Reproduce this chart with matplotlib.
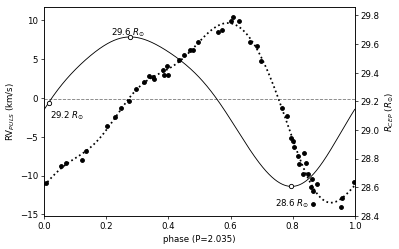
import numpy as np
import matplotlib.pyplot as plt

# ---------------- data ----------------
phase = [0.005, 0.053, 0.071, 0.123, 0.133, 0.202, 0.227, 0.248, 0.274, 0.297,
         0.320, 0.338, 0.349, 0.354, 0.382, 0.386, 0.397, 0.394, 0.435, 0.449,
         0.468, 0.478, 0.494, 0.559, 0.573, 0.601, 0.607, 0.627, 0.662, 0.685,
         0.697, 0.766, 0.782, 0.794, 0.800, 0.803, 0.818, 0.822, 0.836, 0.843,
         0.834, 0.849, 0.861, 0.860, 0.866, 0.878, 0.864, 0.955, 0.960, 0.998]
rv = [-11.0, -8.75, -8.4, -8.0, -6.8, -3.6, -2.5, -1.3, -0.4, 1.15,
      2.05, 2.8, 2.65, 2.45, 3.65, 2.9, 2.9, 4.15, 4.9, 5.55,
      6.2, 6.2, 7.25, 8.5, 8.7, 9.9, 10.4, 9.9, 7.15, 6.65,
      4.8, -1.3, -2.35, -5.2, -5.55, -6.3, -7.45, -8.45, -7.15, -8.4,
      -9.75, -9.8, -10.5, -11.5, -12.0, -11.1, -13.7, -14.0, -12.9, -10.8]

gamma_rv = -0.12               # dashed systemic velocity line
r_max, r_min = 29.65, 28.605   # radius extremes (R_sun)
r_ref_phase = 0.014            # phase of the 29.2 R_sun marker
r_shift = 0.03                 # phase lag of the radius curve
n_harm = 4

phase = np.array(phase)
rv = np.array(rv)

############ Fourier fit of the RV curve ##################
def design(x, n):
    cols = [np.ones_like(x)]
    for k in range(1, n + 1):
        cols.append(np.cos(2 * np.pi * k * x))
        cols.append(np.sin(2 * np.pi * k * x))
    return np.vstack(cols).T

coef, *_ = np.linalg.lstsq(design(phase, n_harm), rv, rcond=None)
ph = np.linspace(0, 1, 1001)
rv_fit = design(ph, n_harm) @ coef

############ radius curve from integrated velocity ##############
dv = rv_fit - coef[0]
integ = np.concatenate([[0], np.cumsum(0.5 * (dv[1:] + dv[:-1]) * np.diff(ph))])
scale = (r_max - r_min) / (integ.max() - integ.min())
rad0 = r_max - scale * (integ - integ.min())
radius = np.interp((ph - r_shift) % 1.0, ph, rad0)

imax = np.argmax(radius)
imin = np.argmin(radius)
r_ref = np.interp(r_ref_phase, ph, radius)

############ plot ###################
fig = plt.figure(figsize=(6.4, 4.0), dpi=62.35)
ax = fig.add_axes([0.111, 0.1333, 0.778, 0.8374])
ax2 = ax.twinx()

ax.axhline(gamma_rv, color='grey', ls='--', lw=1)
ax.plot(ph, rv_fit, ':', color='black', lw=2)
ax.plot(phase, rv, 'o', color='black', ms=4.5)

ax2.plot(ph, radius, '-', color='black', lw=1)
ax2.plot([ph[imax], ph[imin], r_ref_phase], [radius[imax], radius[imin], r_ref],
         'o', mfc='white', mec='black', ms=5, mew=1)

ax.text(0.27, 8.5, '29.6 $R_{\\odot}$', ha='center', va='center')
ax.text(0.017, -2.3, '29.2 $R_{\\odot}$', ha='left', va='center')
ax.text(0.80, -13.6, '28.6 $R_{\\odot}$', ha='center', va='center')

ax.set_xlim(0, 1)
ax.set_ylim(-15.18, 11.73)
ax2.set_ylim(28.40, 29.86)
ax.set_xlabel('phase (P=2.035)')
ax.set_ylabel('RV$_{PULS}$ (km/s)')
ax2.set_ylabel('$R_{CEP}$ ($R_{\\odot}$)')

plt.savefig('out.png', dpi=62.35)
